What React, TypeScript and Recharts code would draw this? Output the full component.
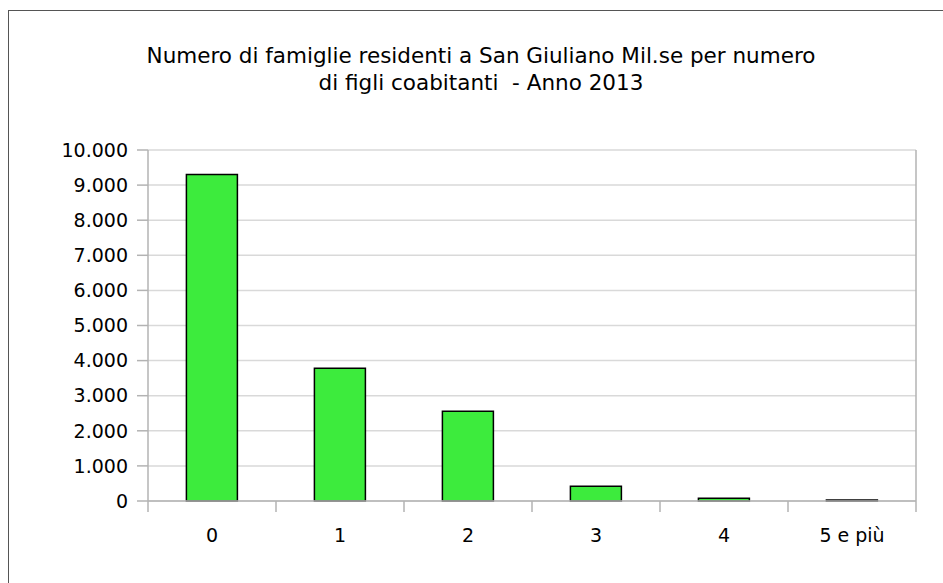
import React from 'react';
import { ComposedChart, Bar, XAxis, YAxis, CartesianGrid, ReferenceLine } from 'recharts';

const categories = ['0', '1', '2', '3', '4', '5 e più'];
const famiglie = [9305, 3780, 2555, 420, 75, 30];
const yTicks = [0, 1000, 2000, 3000, 4000, 5000, 6000, 7000, 8000, 9000, 10000];
const titleLines = [
  'Numero di famiglie residenti a San Giuliano Mil.se per numero',
  'di figli coabitanti  - Anno 2013',
];

const data = categories.map((c, i) => ({ cat: c, idx: i + 0.5, value: famiglie[i] }));
const boundaries = categories.map((_, i) => i).concat([categories.length]);

const fmtDot = (v: number) => String(v).replace(/\B(?=(\d{3})+(?!\d))/g, '.');

const FONT = "'DejaVu Sans', Verdana, sans-serif";
const AXIS = '#b3b3b3';
const GRID = '#d9d9d9';

export default function App() {
  return (
    <div style={{ position: 'absolute', left: 0, top: 0, width: 943, height: 583, overflow: 'hidden', background: '#fff' }}>
      <div style={{ position: 'absolute', left: 8, top: 10, width: 1200, height: 1200, border: '1px solid #555', boxSizing: 'border-box' }} />
      <div
        style={{
          position: 'absolute',
          left: 0,
          top: 42,
          width: 962,
          textAlign: 'center',
          fontFamily: FONT,
          fontSize: 21.5,
          lineHeight: '27px',
          color: '#000',
          whiteSpace: 'pre',
        }}
      >
        {titleLines.map((l, i) => (
          <div key={i}>{l}</div>
        ))}
      </div>
      <div style={{ position: 'absolute', left: 0, top: 0 }}>
        <ComposedChart
          width={943}
          height={583}
          data={data}
          margin={{ top: 150, right: 27, bottom: 42, left: 0 }}
          barCategoryGap="30%"
        >
          <CartesianGrid vertical={false} stroke={GRID} strokeWidth={1.5} />
          <XAxis
            dataKey="cat"
            height={40}
            axisLine={{ stroke: AXIS, strokeWidth: 1.5 }}
            tickLine={false}
            tickSize={0}
            tickMargin={28}
            interval={0}
            tick={{ fill: '#000', fontSize: 19, fontFamily: FONT }}
          />
          <XAxis
            xAxisId="n"
            dataKey="idx"
            type="number"
            domain={[0, categories.length]}
            ticks={boundaries}
            allowDataOverflow
            hide
          />
          <YAxis
            width={148}
            domain={[0, 10000]}
            ticks={yTicks}
            interval={0}
            tickFormatter={(v: number) => fmtDot(v)}
            axisLine={{ stroke: AXIS, strokeWidth: 1.5 }}
            tickLine={{ stroke: AXIS, strokeWidth: 1.5 }}
            tickSize={11}
            tickMargin={9}
            tick={{ fill: '#000', fontSize: 19, fontFamily: FONT }}
          />
          {boundaries.map((b) => (
            <ReferenceLine
              key={b}
              xAxisId="n"
              segment={[
                { x: b, y: b === categories.length ? 10000 : 0 },
                { x: b, y: -310 },
              ]}
              ifOverflow="visible"
              stroke={AXIS}
              strokeWidth={1.5}
            />
          ))}
          <Bar dataKey="value" fill="#3deb3d" stroke="#000" strokeWidth={1.5} isAnimationActive={false} />
        </ComposedChart>
      </div>
    </div>
  );
}
